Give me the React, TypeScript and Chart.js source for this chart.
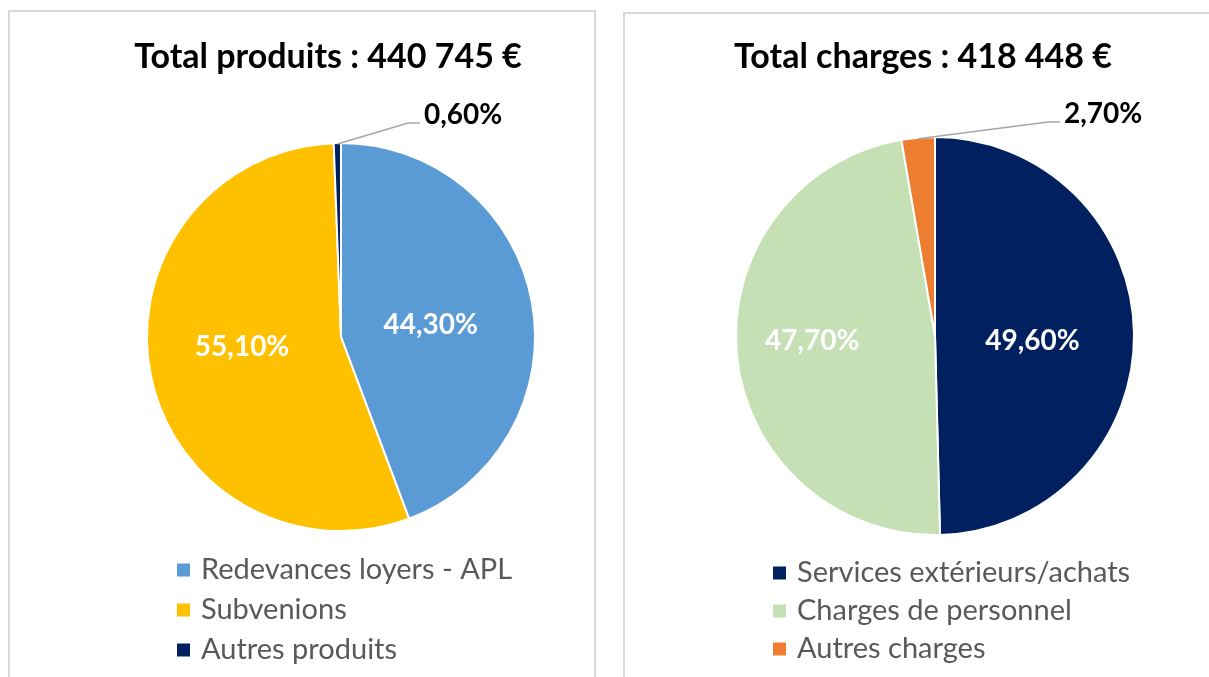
import React, { useEffect, useRef } from "react";
import { Chart, registerables } from "chart.js";

Chart.register(...registerables);

// ---- data ----
const produitsTitle = "Total produits : 440 745 €";
const produitsLabels = ["Redevances loyers - APL", "Subvenions", "Autres produits"];
const produitsValues = [44.3, 55.1, 0.6];
const produitsColors = ["#5B9BD5", "#FFC000", "#002060"];

const chargesTitle = "Total charges : 418 448 €";
const chargesLabels = ["Services extérieurs/achats", "Charges de personnel", "Autres charges"];
const chargesValues = [49.6, 47.7, 2.7];
const chargesColors = ["#002060", "#C5E0B4", "#ED7D31"];

const fmt = (v: number) => v.toFixed(2).replace(".", ",") + "%";

const FONT = "Lato, 'Open Sans', sans-serif";

const decorPlugin = {
  id: "decor",
  afterDatasetsDraw(chart: any, _args: any, opts: any) {
    const ctx: CanvasRenderingContext2D = chart.ctx;
    const meta = chart.getDatasetMeta(0);
    const ds = chart.data.datasets[0];
    const labels = chart.data.labels as string[];
    ctx.save();
    // title
    ctx.font = `bold ${opts.titleSize}px ${FONT}`;
    ctx.fillStyle = "#000000";
    ctx.textAlign = "center";
    ctx.textBaseline = "middle";
    ctx.fillText(opts.title, opts.titleX, opts.titleY);

    // data labels
    meta.data.forEach((arc: any, i: number) => {
      const p = arc.getProps(["x", "y", "startAngle", "endAngle", "outerRadius"], true);
      const mid = (p.startAngle + p.endAngle) / 2;
      const text = fmt(ds.data[i]);
      ctx.font = `bold ${opts.labelSize}px ${FONT}`;
      if (i === opts.outsideIndex) {
        const r = p.outerRadius - 1;
        const sx = p.x + Math.cos(mid) * r;
        const sy = p.y + Math.sin(mid) * r;
        const ex = p.x + opts.elbow[0];
        const ey = p.y + opts.elbow[1];
        ctx.strokeStyle = "#A6A6A6";
        ctx.lineWidth = 1.5;
        ctx.beginPath();
        ctx.moveTo(sx, sy);
        ctx.lineTo(ex, ey);
        ctx.lineTo(ex + opts.tail, ey);
        ctx.stroke();
        ctx.fillStyle = "#000000";
        ctx.textAlign = "left";
        ctx.fillText(text, ex + opts.tail + 4, ey - 8);
      } else {
        const f = opts.factors[i];
        const n = opts.nudge[i];
        ctx.fillStyle = "#FFFFFF";
        ctx.textAlign = "center";
        ctx.fillText(
          text,
          p.x + Math.cos(mid) * p.outerRadius * f + n[0],
          p.y + Math.sin(mid) * p.outerRadius * f + n[1]
        );
      }
    });

    // legend
    const lg = opts.legend;
    ctx.font = `${lg.size}px ${FONT}`;
    ctx.textAlign = "left";
    ctx.textBaseline = "middle";
    labels.forEach((lab, i) => {
      const y = lg.y + i * lg.gap;
      ctx.fillStyle = ds.backgroundColor[i];
      ctx.fillRect(lg.x, y - lg.box / 2, lg.box, lg.box);
      ctx.fillStyle = "#595959";
      ctx.fillText(lab, lg.textX, y);
    });
    ctx.restore();
  },
};

function PiePanel(props: {
  labels: string[];
  values: number[];
  colors: string[];
  w: number;
  h: number;
  panelStyle: React.CSSProperties;
  radius: number;
  padding: any;
  decor: any;
}) {
  const ref = useRef<HTMLCanvasElement>(null);
  useEffect(() => {
    const chart = new Chart(ref.current as HTMLCanvasElement, {
      type: "pie",
      data: {
        labels: props.labels,
        datasets: [
          {
            data: props.values,
            backgroundColor: props.colors,
            borderColor: "#FFFFFF",
            borderWidth: 2,
            radius: props.radius,
          } as any,
        ],
      },
      options: {
        responsive: false,
        animation: false,
        layout: { padding: props.padding },
        plugins: {
          legend: { display: false },
          tooltip: { enabled: false },
          decor: props.decor,
        } as any,
      },
      plugins: [decorPlugin as any],
    });
    return () => chart.destroy();
  }, []);
  return (
    <div style={props.panelStyle}>
      <canvas ref={ref} width={props.w} height={props.h} style={{ display: "block" }} />
    </div>
  );
}

export default function App() {
  return (
    <div
      style={{
        position: "fixed",
        left: 0,
        top: 0,
        width: 1209,
        height: 677,
        overflow: "hidden",
        background: "#FFFFFF",
      }}
    >
      <PiePanel
        labels={produitsLabels}
        values={produitsValues}
        colors={produitsColors}
        w={584}
        h={665}
        radius={194}
        padding={{ left: 131, right: 53, top: 125, bottom: 140 }}
        panelStyle={{
          position: "absolute",
          left: 8,
          top: 10,
          width: 588,
          height: 700,
          border: "2px solid #D9D9D9",
          boxSizing: "border-box",
        }}
        decor={{
          title: produitsTitle,
          titleX: 318,
          titleY: 45,
          titleSize: 34,
          labelSize: 28,
          factors: [0.47, 0.52, 0],
          nudge: [[0, 4], [0, -10], [0, 0]],
          outsideIndex: 2,
          elbow: [67, -214],
          tail: 12,
          legend: { x: 167, textX: 191, y: 558, gap: 40, box: 13, size: 29 },
        }}
      />
      <PiePanel
        labels={chargesLabels}
        values={chargesValues}
        colors={chargesColors}
        w={584}
        h={663}
        radius={199}
        padding={{ left: 105, right: 69, top: 117, bottom: 136 }}
        panelStyle={{
          position: "absolute",
          left: 623,
          top: 12,
          width: 620,
          height: 700,
          border: "2px solid #D9D9D9",
          boxSizing: "border-box",
        }}
        decor={{
          title: chargesTitle,
          titleX: 298,
          titleY: 43,
          titleSize: 34,
          labelSize: 28,
          factors: [0.49, 0.62, 0],
          nudge: [[0, 6], [0, -7], [0, 0]],
          outsideIndex: 2,
          elbow: [113, -214],
          tail: 12,
          legend: { x: 148, textX: 172, y: 559, gap: 38, box: 13, size: 29 },
        }}
      />
    </div>
  );
}
